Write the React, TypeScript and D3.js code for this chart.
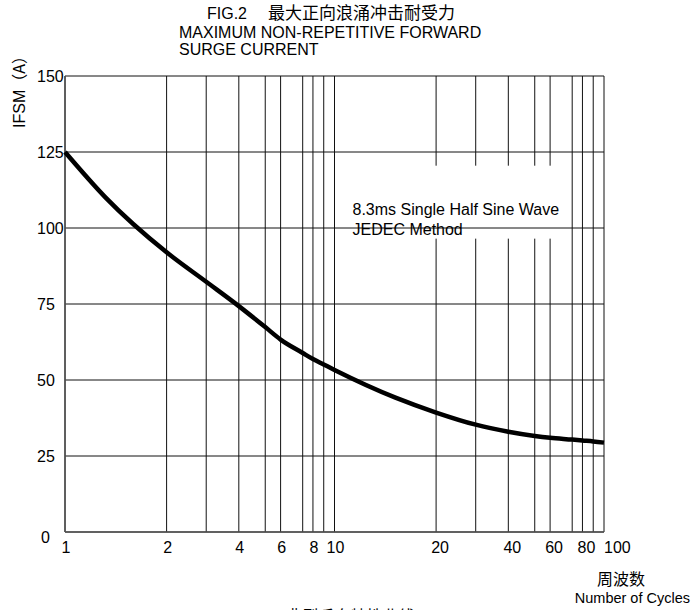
import * as d3 from 'd3';
import React from 'react';

// surge current curve, cycles vs IFSM (A)
const cycles = [1, 1.4, 2, 3, 4, 5, 6, 7, 8, 9, 10, 16, 20, 30, 40, 50, 60, 70, 80, 90, 100];
const ifsm = [125, 110, 92, 82.3, 74.3, 67.4, 63.3, 58.9, 56.9, 55.1, 53.3, 44.2, 39.3, 35.3, 33, 31.6, 31, 30.4, 30.1, 29.8, 29.4];

const yTicks = [0, 25, 50, 75, 100, 125, 150];
const xGrid = [1, 2, 3, 4, 5, 6, 7, 8, 9, 10, 20, 30, 40, 50, 60, 70, 80, 90, 100];
const xLabels = [1, 2, 4, 6, 8, 10, 20, 40, 60, 80, 100];

const titleLines = ['MAXIMUM NON-REPETITIVE FORWARD', 'SURGE CURRENT'];
const noteLines = ['8.3ms Single Half Sine Wave', 'JEDEC Method'];

// the printed log paper is not a true log scale: spacing of 1..9 inside one decade
const paperSpacing = [0, 0.377, 0.524, 0.645, 0.743, 0.8, 0.882, 0.92, 0.96];

const font = 'Arial, "Liberation Sans", "Noto Sans CJK SC", sans-serif';
const cjk = '"Noto Sans CJK SC", sans-serif';

export default function App() {
  const margin = { top: 76, right: 89, bottom: 78, left: 65 };
  const W = 693;
  const H = 610;
  const width = W - margin.left - margin.right;
  const height = H - margin.top - margin.bottom;

  const decadeRange = xGrid.map((v) => {
    const k = Math.floor(Math.log10(v) + 1e-9);
    const m = Math.round(v / Math.pow(10, k));
    const pos = k === 2 ? 2 : k + paperSpacing[m - 1];
    return (pos / 2) * width;
  });
  const x = d3.scaleLinear().domain(xGrid).range(decadeRange);
  const y = d3.scaleLinear().domain([0, 150]).range([height, 0]);

  const points = cycles.map((c, i) => [c, ifsm[i]] as [number, number]);
  const line = d3
    .line<[number, number]>()
    .x((d) => x(d[0]))
    .y((d) => y(d[1]))
    .curve(d3.curveMonotoneX);

  // white patch behind the note, cuts the vertical grid
  const noteBox = { x0: x(10) + 6, x1: x(70) - 4, y0: y(120.5), y1: y(96.5) };

  return (
    <svg
      width={W}
      height={H}
      style={{ position: 'absolute', left: 0, top: 0, background: '#fff' }}
      fontFamily={font}
    >
      <text fontSize={16} y={19}>
        <tspan x={207}>FIG.2</tspan>
        <tspan x={268} fontFamily={cjk} fontSize={17}>
          最大正向浪涌冲击耐受力
        </tspan>
      </text>
      {titleLines.map((t, i) => (
        <text key={t} x={179} y={38 + i * 17} fontSize={16}>
          {t}
        </text>
      ))}

      <text transform="translate(25, 128) rotate(-90)" fontSize={16}>
        IFSM<tspan fontFamily={cjk}>（A）</tspan>
      </text>

      <g transform={`translate(${margin.left}, ${margin.top})`}>
        {xGrid.map((v) => (
          <line key={`v-${v}`} x1={x(v)} x2={x(v)} y1={0} y2={height} stroke="#111" strokeWidth={1} />
        ))}
        <rect
          x={noteBox.x0}
          y={noteBox.y0}
          width={noteBox.x1 - noteBox.x0}
          height={noteBox.y1 - noteBox.y0}
          fill="#fff"
        />
        {yTicks.map((v) => (
          <line key={`h-${v}`} x1={0} x2={width} y1={y(v)} y2={y(v)} stroke="#111" strokeWidth={1} />
        ))}
        <line x1={0} x2={0} y1={0} y2={height} stroke="#555" strokeWidth={1.6} />
        <line x1={0} x2={width} y1={height} y2={height} stroke="#555" strokeWidth={1.6} />

        {yTicks.map((v) => (
          <text
            key={`yl-${v}`}
            x={v === 0 ? -24 : -28}
            y={v === 0 ? y(v) + 5 : y(v)}
            dy="0.35em"
            fontSize={16}
          >
            {v}
          </text>
        ))}
        {xLabels.map((v) => (
          <text
            key={`xl-${v}`}
            x={x(v) + (v === 100 ? 0 : v >= 20 ? 4 : 1)}
            y={height + 21}
            fontSize={16}
            textAnchor={v === 100 ? 'start' : 'middle'}
          >
            {v}
          </text>
        ))}

        {noteLines.map((t, i) => (
          <text key={t} x={x(10) + 18} y={139 + i * 20} fontSize={16}>
            {t}
          </text>
        ))}

        <path d={line(points) ?? ''} fill="none" stroke="#000" strokeWidth={4.5} strokeLinejoin="round" />
      </g>

      <text x={621} y={585} fontSize={16} fontFamily={cjk} textAnchor="middle">
        周波数
      </text>
      <text x={690} y={603} fontSize={14.5} textAnchor="end">
        Number of Cycles
      </text>
      <text x={243} y={622} fontSize={16}>
        FIG.1<tspan fontFamily={cjk}> 典型反向特性曲线</tspan>
      </text>
    </svg>
  );
}
